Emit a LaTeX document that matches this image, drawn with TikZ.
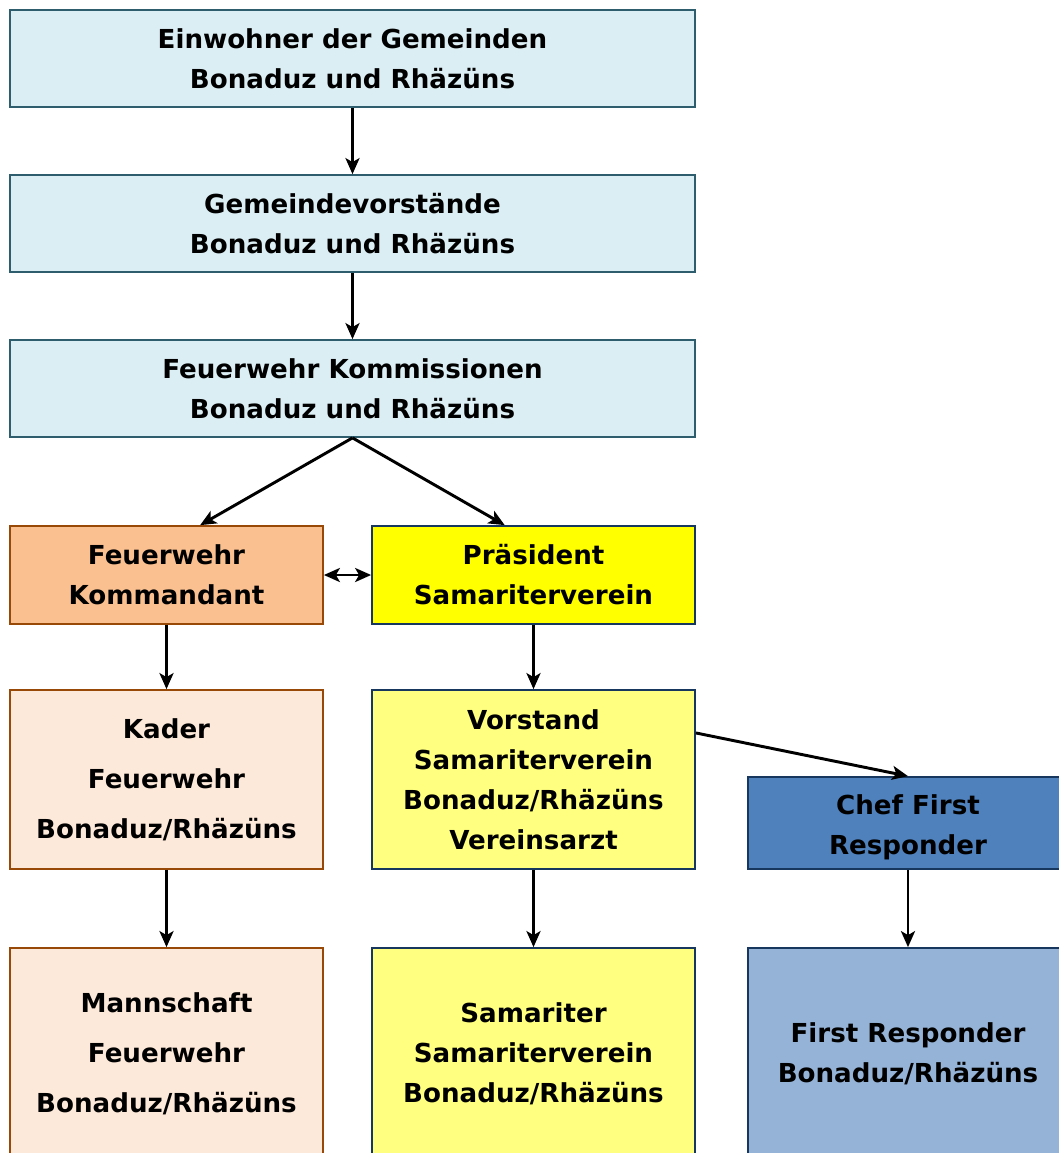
\documentclass[tikz,border=0pt]{standalone}
\usepackage{fontspec}
\setmainfont{DejaVu Sans}
\usetikzlibrary{arrows.meta}
\definecolor{gemfill}{HTML}{DBEEF4}
\definecolor{gemline}{HTML}{2E5E6E}
\definecolor{fwfill}{HTML}{FAC090}
\definecolor{fwline}{HTML}{984807}
\definecolor{fwpale}{HTML}{FDE9D9}
\definecolor{samgelb}{HTML}{FFFF00}
\definecolor{sampale}{HTML}{FFFF80}
\definecolor{navy}{HTML}{17375E}
\definecolor{frblau}{HTML}{4F81BD}
\definecolor{frpale}{HTML}{95B3D7}
\begin{document}
\begin{tikzpicture}[x=0.75pt,y=-0.75pt,
    box/.style={draw,line width=1.3pt,inner sep=0pt,align=center,
      font=\bfseries\fontsize{19.6}{30}\selectfont},
    gem/.style={box,fill=gemfill,draw=gemline,minimum width=513.75pt,minimum height=72.75pt},
    fw/.style={box,draw=fwline,minimum width=234.75pt},
    sam/.style={box,draw=navy,minimum width=242.25pt},
    fr/.style={box,draw=navy,minimum width=240pt},
    spitze/.tip={Stealth[length=12pt,width=10.5pt,inset=3pt]},
    pfeil/.style={-spitze,line width=2.2pt}]
    \useasboundingbox (0,0) rectangle (1059,1153);
    % Gemeinden
    \node[gem] (einw) at (352.5,58.5) {Einwohner der Gemeinden\\Bonaduz und Rhäzüns};
    \node[gem] (vorst) at (352.5,223.5) {Gemeindevorstände\\Bonaduz und Rhäzüns};
    \node[gem] (komm) at (352.5,388.5) {Feuerwehr Kommissionen\\Bonaduz und Rhäzüns};
    % Feuerwehr
    \node[fw,fill=fwfill,minimum height=73.5pt] (kdt) at (166.5,575) {Feuerwehr\\Kommandant};
    \node[fw,fill=fwpale,minimum height=134.25pt,font=\bfseries\fontsize{19.6}{37.5}\selectfont] (kader) at (166.5,779.5) {Kader\\Feuerwehr\\Bonaduz/Rhäzüns};
    \node[fw,fill=fwpale,minimum height=159pt,font=\bfseries\fontsize{19.6}{37.5}\selectfont] (mann) at (166.5,1054) {Mannschaft\\Feuerwehr\\Bonaduz/Rhäzüns};
    % Samariter
    \node[sam,fill=samgelb,minimum height=73.5pt] (praes) at (533.5,575) {Präsident\\Samariterverein};
    \node[sam,fill=sampale,minimum height=134.25pt] (svorst) at (533.5,779.5) {Vorstand\\Samariterverein\\Bonaduz/Rhäzüns\\Vereinsarzt};
    \node[sam,fill=sampale,minimum height=159pt] (sam) at (533.5,1054) {Samariter\\Samariterverein\\Bonaduz/Rhäzüns};
    % First Responder
    \node[fr,fill=frblau,minimum height=69pt] (chef) at (908,823) {\\[-9pt]Chef First\\Responder};
    \node[fr,fill=frpale,minimum height=159pt] (frs) at (908,1054) {First Responder\\Bonaduz/Rhäzüns};
    % Pfeile
    \draw[pfeil] (einw) -- (vorst);
    \draw[pfeil] (vorst) -- (komm);
    \draw[pfeil] (komm.south) -- (kdt.56);
    \draw[pfeil] (komm.south) -- (praes.120);
    \draw[pfeil,spitze-spitze] (kdt) -- (praes);
    \draw[pfeil] (kdt) -- (kader);
    \draw[pfeil] (kader) -- (mann);
    \draw[pfeil] (praes) -- (svorst);
    \draw[pfeil] (svorst) -- (sam);
    \draw[pfeil] (svorst.16) -- (chef.north);
    \draw[pfeil] (chef) -- (frs);
\end{tikzpicture}
\end{document}
